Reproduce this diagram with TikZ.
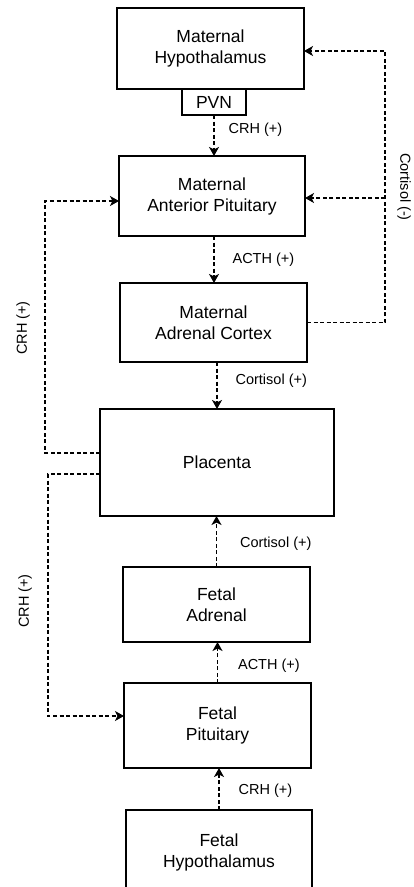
\documentclass[tikz,border=0pt]{standalone}
\usepackage{fontspec}
\setmainfont{Liberation Sans}
\usetikzlibrary{positioning,arrows.meta}
\tikzstyle{hpa axis}=[
    >={Stealth[length=9pt,width=10pt,inset=2.5pt]}, x=1pt, y=-1pt,
    node distance=45pt,
    organ/.style={
        draw, line width=1.3pt, outer sep=0pt, inner sep=2pt,
        minimum width=187pt, minimum height=80pt, align=center,
        font=\organfont,
    },
    signal/.style={->, dash pattern=on 4pt off 2.5pt, line width=1.2pt},
    hormone/.style={font=\hormonefont, inner sep=0pt},
]
\newcommand{\organfont}{\fontsize{17.5}{21}\selectfont}
\newcommand{\hormonefont}{\fontsize{14.5}{17}\selectfont}

\begin{document}
\begin{tikzpicture}[hpa axis]
        \path[use as bounding box, fill=white] (0,0) rectangle (414,887);
        \clip (0,0) rectangle (414,887);

        % maternal side
        \node[organ, minimum height=81pt] (mhyp) at (210.5,48.5) {Maternal\\Hypothalamus};
        \node[organ, minimum width=64pt, minimum height=26pt, below=0pt of mhyp, xshift=3.5pt] (pvn) {PVN};
        \node[organ, minimum width=186pt, below=41pt of pvn, xshift=-2pt] (map) {Maternal\\Anterior Pituitary};
        \node[organ, minimum height=79pt, below=47pt of map, xshift=1.5pt] (mac) {Maternal\\Adrenal Cortex};
        \node[organ, minimum width=234pt, minimum height=107pt, below=47pt of mac, xshift=3.5pt] (plac) {Placenta};

        % fetal side
        \node[organ, minimum height=75pt, below=51pt of plac, xshift=-0.5pt] (fadr) {Fetal\\Adrenal};
        \node[organ, minimum height=85pt, below=41pt of fadr, xshift=1pt] (fpit) {Fetal\\Pituitary};
        \node[organ, minimum width=186pt, minimum height=85pt, below=42pt of fpit, xshift=1.5pt] (fhyp) {Fetal\\Hypothalamus};

        \path
            (pvn.south) edge[signal] node[hormone, pos=0.35, right=14pt] (lcrh1) {CRH (+)} (pvn.south |- map.north)
            (map.south -| pvn.south) edge[signal] node[hormone, pos=0.5, right=18pt] (lacth1) {ACTH (+)} (pvn.south |- mac.north)
            (plac.north |- mac.south) edge[signal] node[hormone, pos=0.4, right=18pt] (lcort1) {Cortisol (+)} (plac.north)
            (fadr.north) edge[signal] node[hormone, pos=0.45, right=23pt] (lcort2) {Cortisol (+)} (fadr.north |- plac.south)
            (fpit.north) edge[signal] node[hormone, pos=0.41, right=20pt] (lacth2) {ACTH (+)} (fpit.north |- fadr.south)
            (fhyp.north) edge[signal] node[hormone, pos=0.45, right=19pt] (lcrh2) {CRH (+)} (fhyp.north |- fpit.south)
        ;

        % negative feedback
        \coordinate (fb) at (385,0);
        \draw[signal] (mac.east) -- (mac.east -| fb) |- ([yshift=-2.5pt]mhyp.east);
        \draw[signal] ([yshift=-2pt]map.east -| fb) -- ([yshift=-2pt]map.east);
        \node[hormone, rotate=-90] (lcortneg) at (404,187) {Cortisol (-)};

        % placental CRH
        \draw[signal] ([yshift=9.5pt]plac.west) -- ++(-55pt,0) |- ([yshift=-5pt]map.west);
        \draw[signal] ([yshift=-11.5pt]plac.west) -- ++(-52pt,0) |- ([yshift=9.5pt]fpit.west);
        \node[hormone, rotate=90] (lcrhm) at (23,328) {CRH (+)};
        \node[hormone, rotate=90] (lcrhf) at (25,601) {CRH (+)};
    \end{tikzpicture}
\end{document}
